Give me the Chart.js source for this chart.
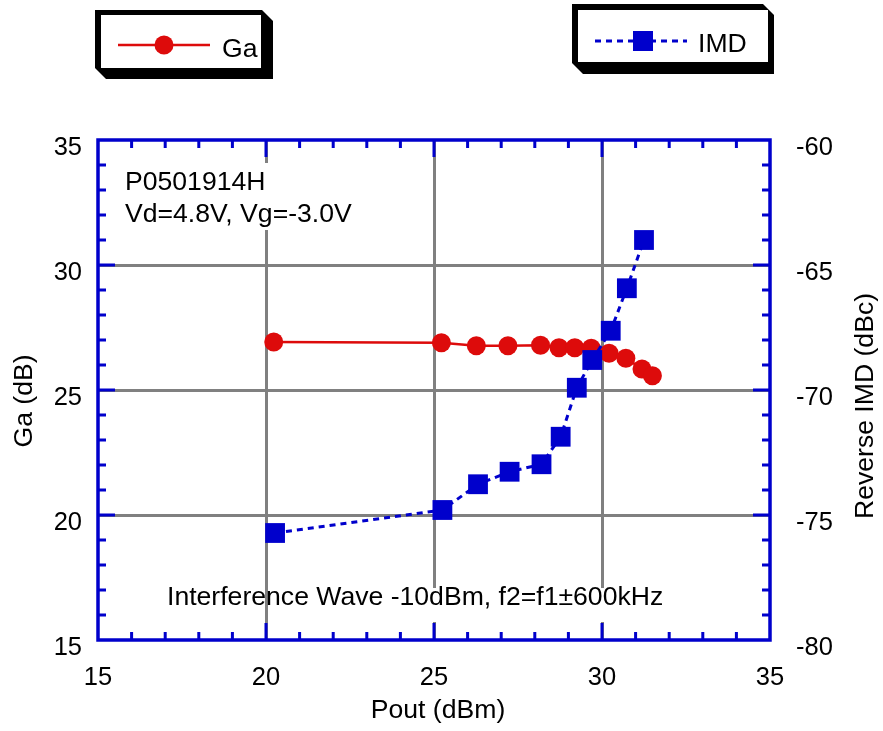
<!DOCTYPE html>
<html>
<head>
<meta charset="utf-8">
<script src="https://cdn.jsdelivr.net/npm/chart.js@4.4.0/dist/chart.umd.min.js"></script>
<style>
html, body { margin: 0; padding: 0; background: #fff; }
#wrap { position: relative; width: 883px; height: 731px; }
</style>
</head>
<body>
<div id="wrap"><canvas id="chart" width="883" height="731"></canvas></div>
<script>
// Ga vs Pout (left axis)
const poutGa = [20.23, 25.22, 26.26, 27.20, 28.17, 28.72, 29.19, 29.68, 30.21, 30.71, 31.19, 31.50];
const gaValues = [26.92, 26.89, 26.77, 26.77, 26.79, 26.69, 26.69, 26.67, 26.47, 26.27, 25.84, 25.57];

// Reverse IMD vs Pout (right axis)
const poutImd = [20.27, 25.25, 26.31, 27.25, 28.20, 28.77, 29.25, 29.71, 30.26, 30.74, 31.25];
const imdValues = [-75.72, -74.80, -73.77, -73.27, -72.97, -71.87, -69.91, -68.80, -67.63, -65.93, -64.00];

const xRange = [15, 35];
const gaRange = [15, 35];
const imdRange = [-80, -60];

const noteLines = ['P0501914H', 'Vd=4.8V, Vg=-3.0V'];
const bottomNote = 'Interference Wave -10dBm, f2=f1\u00b1600kHz';

const FONT = '"Liberation Sans", Arial, Helvetica, sans-serif';
const TEXT_SIZE = 26.6;
const RED = '#dd0b0b';
const BLUE = '#0000cc';
const GRID = '#808080';

Chart.defaults.font.family = FONT;
Chart.defaults.color = '#000';

const toPoints = (xs, ys) => xs.map((x, i) => ({ x: x, y: ys[i] }));

const gridColor = (lo, hi) => ctx => (ctx.tick.value > lo && ctx.tick.value < hi) ? GRID : 'rgba(0,0,0,0)';

// draws legend boxes, notes, inward ticks, frame and axis titles
const decorPlugin = {
    id: 'decor',
    beforeDatasetsDraw(chart) {
        const ctx = chart.ctx;
        ctx.save();
        // white backgrounds behind the notes
        ctx.fillStyle = '#fff';
        ctx.fillRect(120, 163, 240, 67);
        ctx.fillRect(290, 588, 385, 34);

        ctx.fillStyle = '#000';
        ctx.font = TEXT_SIZE + 'px ' + FONT;
        ctx.textAlign = 'left';
        ctx.textBaseline = 'alphabetic';
        ctx.fillText(noteLines[0], 125, 190);
        ctx.fillText(noteLines[1], 125, 222);
        ctx.fillText(bottomNote, 167, 605);
        ctx.restore();
    },
    afterDraw(chart) {
        const ctx = chart.ctx;
        const area = chart.chartArea;
        const xs = chart.scales.x;
        const ys = chart.scales.y;
        ctx.save();

        // inward ticks on all four sides
        ctx.strokeStyle = BLUE;
        ctx.lineWidth = 3;
        ctx.beginPath();
        for (let v = xRange[0] + 1; v < xRange[1]; v++) {
            const len = v % 5 === 0 ? 17 : 8;
            const px = xs.getPixelForValue(v);
            ctx.moveTo(px, area.bottom); ctx.lineTo(px, area.bottom - len);
            ctx.moveTo(px, area.top); ctx.lineTo(px, area.top + len);
        }
        for (let v = gaRange[0] + 1; v < gaRange[1]; v++) {
            const len = v % 5 === 0 ? 17 : 8;
            const py = ys.getPixelForValue(v);
            ctx.moveTo(area.left, py); ctx.lineTo(area.left + len, py);
            ctx.moveTo(area.right, py); ctx.lineTo(area.right - len, py);
        }
        ctx.stroke();

        // frame
        ctx.lineWidth = 3.5;
        ctx.strokeRect(area.left, area.top, area.right - area.left, area.bottom - area.top);

        // axis titles
        ctx.fillStyle = '#000';
        ctx.font = TEXT_SIZE + 'px ' + FONT;
        ctx.textAlign = 'center';
        ctx.textBaseline = 'middle';
        ctx.fillText('Pout (dBm)', 438, 711);
        ctx.save();
        ctx.translate(25, 401);
        ctx.rotate(-Math.PI / 2);
        ctx.fillText('Ga (dB)', 0, 0);
        ctx.restore();
        ctx.save();
        ctx.translate(866, 406);
        ctx.rotate(-Math.PI / 2);
        ctx.fillText('Reverse IMD (dBc)', 0, 0);
        ctx.restore();

        // legend boxes with a 3D shadow
        const box = (pts, inner) => {
            ctx.fillStyle = '#000';
            ctx.beginPath();
            pts.forEach((p, i) => i ? ctx.lineTo(p[0], p[1]) : ctx.moveTo(p[0], p[1]));
            ctx.closePath();
            ctx.fill();
            ctx.fillStyle = '#fff';
            ctx.fillRect(inner[0], inner[1], inner[2], inner[3]);
        };
        box([[95, 10], [262, 10], [273, 21], [273, 79], [106, 79], [95, 68]], [101, 15, 160, 53]);
        box([[572, 4], [763, 4], [774, 15], [774, 74], [583, 74], [572, 63]], [578, 10, 190, 52]);

        const ga = chart.data.datasets[1];
        const imd = chart.data.datasets[0];

        ctx.strokeStyle = ga.borderColor;
        ctx.lineWidth = ga.borderWidth;
        ctx.beginPath();
        ctx.moveTo(118, 45); ctx.lineTo(210, 45);
        ctx.stroke();
        ctx.fillStyle = ga.pointBackgroundColor;
        ctx.beginPath();
        ctx.arc(164, 45, ga.pointRadius, 0, Math.PI * 2);
        ctx.fill();

        ctx.strokeStyle = imd.borderColor;
        ctx.lineWidth = imd.borderWidth;
        ctx.setLineDash(imd.borderDash);
        ctx.beginPath();
        ctx.moveTo(595, 41); ctx.lineTo(687, 41);
        ctx.stroke();
        ctx.setLineDash([]);
        ctx.fillStyle = imd.pointBackgroundColor;
        ctx.fillRect(633, 31, 20, 20);

        ctx.fillStyle = '#000';
        ctx.font = TEXT_SIZE + 'px ' + FONT;
        ctx.textAlign = 'left';
        ctx.textBaseline = 'alphabetic';
        ctx.fillText(ga.label, 222, 57);
        ctx.fillText(imd.label, 698, 52);
        ctx.restore();
    }
};

new Chart(document.getElementById('chart'), {
    type: 'scatter',
    data: {
        datasets: [
            {
                label: 'IMD',
                data: toPoints(poutImd, imdValues),
                yAxisID: 'y2',
                showLine: true,
                borderColor: BLUE,
                borderWidth: 3,
                borderDash: [6, 5],
                pointStyle: 'rect',
                pointRadius: 14,
                pointBackgroundColor: BLUE,
                pointBorderWidth: 0,
                order: 0
            },
            {
                label: 'Ga',
                data: toPoints(poutGa, gaValues),
                yAxisID: 'y',
                showLine: true,
                borderColor: RED,
                borderWidth: 2.5,
                pointStyle: 'circle',
                pointRadius: 9.5,
                pointBackgroundColor: RED,
                pointBorderWidth: 0,
                order: 1
            }
        ]
    },
    options: {
        responsive: false,
        animation: false,
        devicePixelRatio: 1,
        layout: { padding: { top: 140, left: 0, right: 0, bottom: 0 } },
        plugins: {
            legend: { display: false },
            tooltip: { enabled: false }
        },
        scales: {
            x: {
                type: 'linear',
                min: xRange[0],
                max: xRange[1],
                afterFit: s => { s.height = 91; },
                ticks: { stepSize: 5, padding: 23, font: { size: 25.5 }, color: '#000' },
                grid: { color: gridColor(xRange[0], xRange[1]), lineWidth: 3, drawTicks: false },
                border: { display: false }
            },
            y: {
                type: 'linear',
                position: 'left',
                min: gaRange[0],
                max: gaRange[1],
                afterFit: s => { s.width = 98; },
                ticks: { stepSize: 5, padding: 16, labelOffset: 8, font: { size: 25.5 }, color: '#000' },
                grid: { color: gridColor(gaRange[0], gaRange[1]), lineWidth: 3, drawTicks: false },
                border: { display: false }
            },
            y2: {
                type: 'linear',
                position: 'right',
                min: imdRange[0],
                max: imdRange[1],
                afterFit: s => { s.width = 113; },
                ticks: { stepSize: 5, padding: 26, labelOffset: 8, font: { size: 25.5 }, color: '#000' },
                grid: { display: false, drawTicks: false },
                border: { display: false }
            }
        }
    },
    plugins: [decorPlugin]
});
</script>
</body>
</html>
